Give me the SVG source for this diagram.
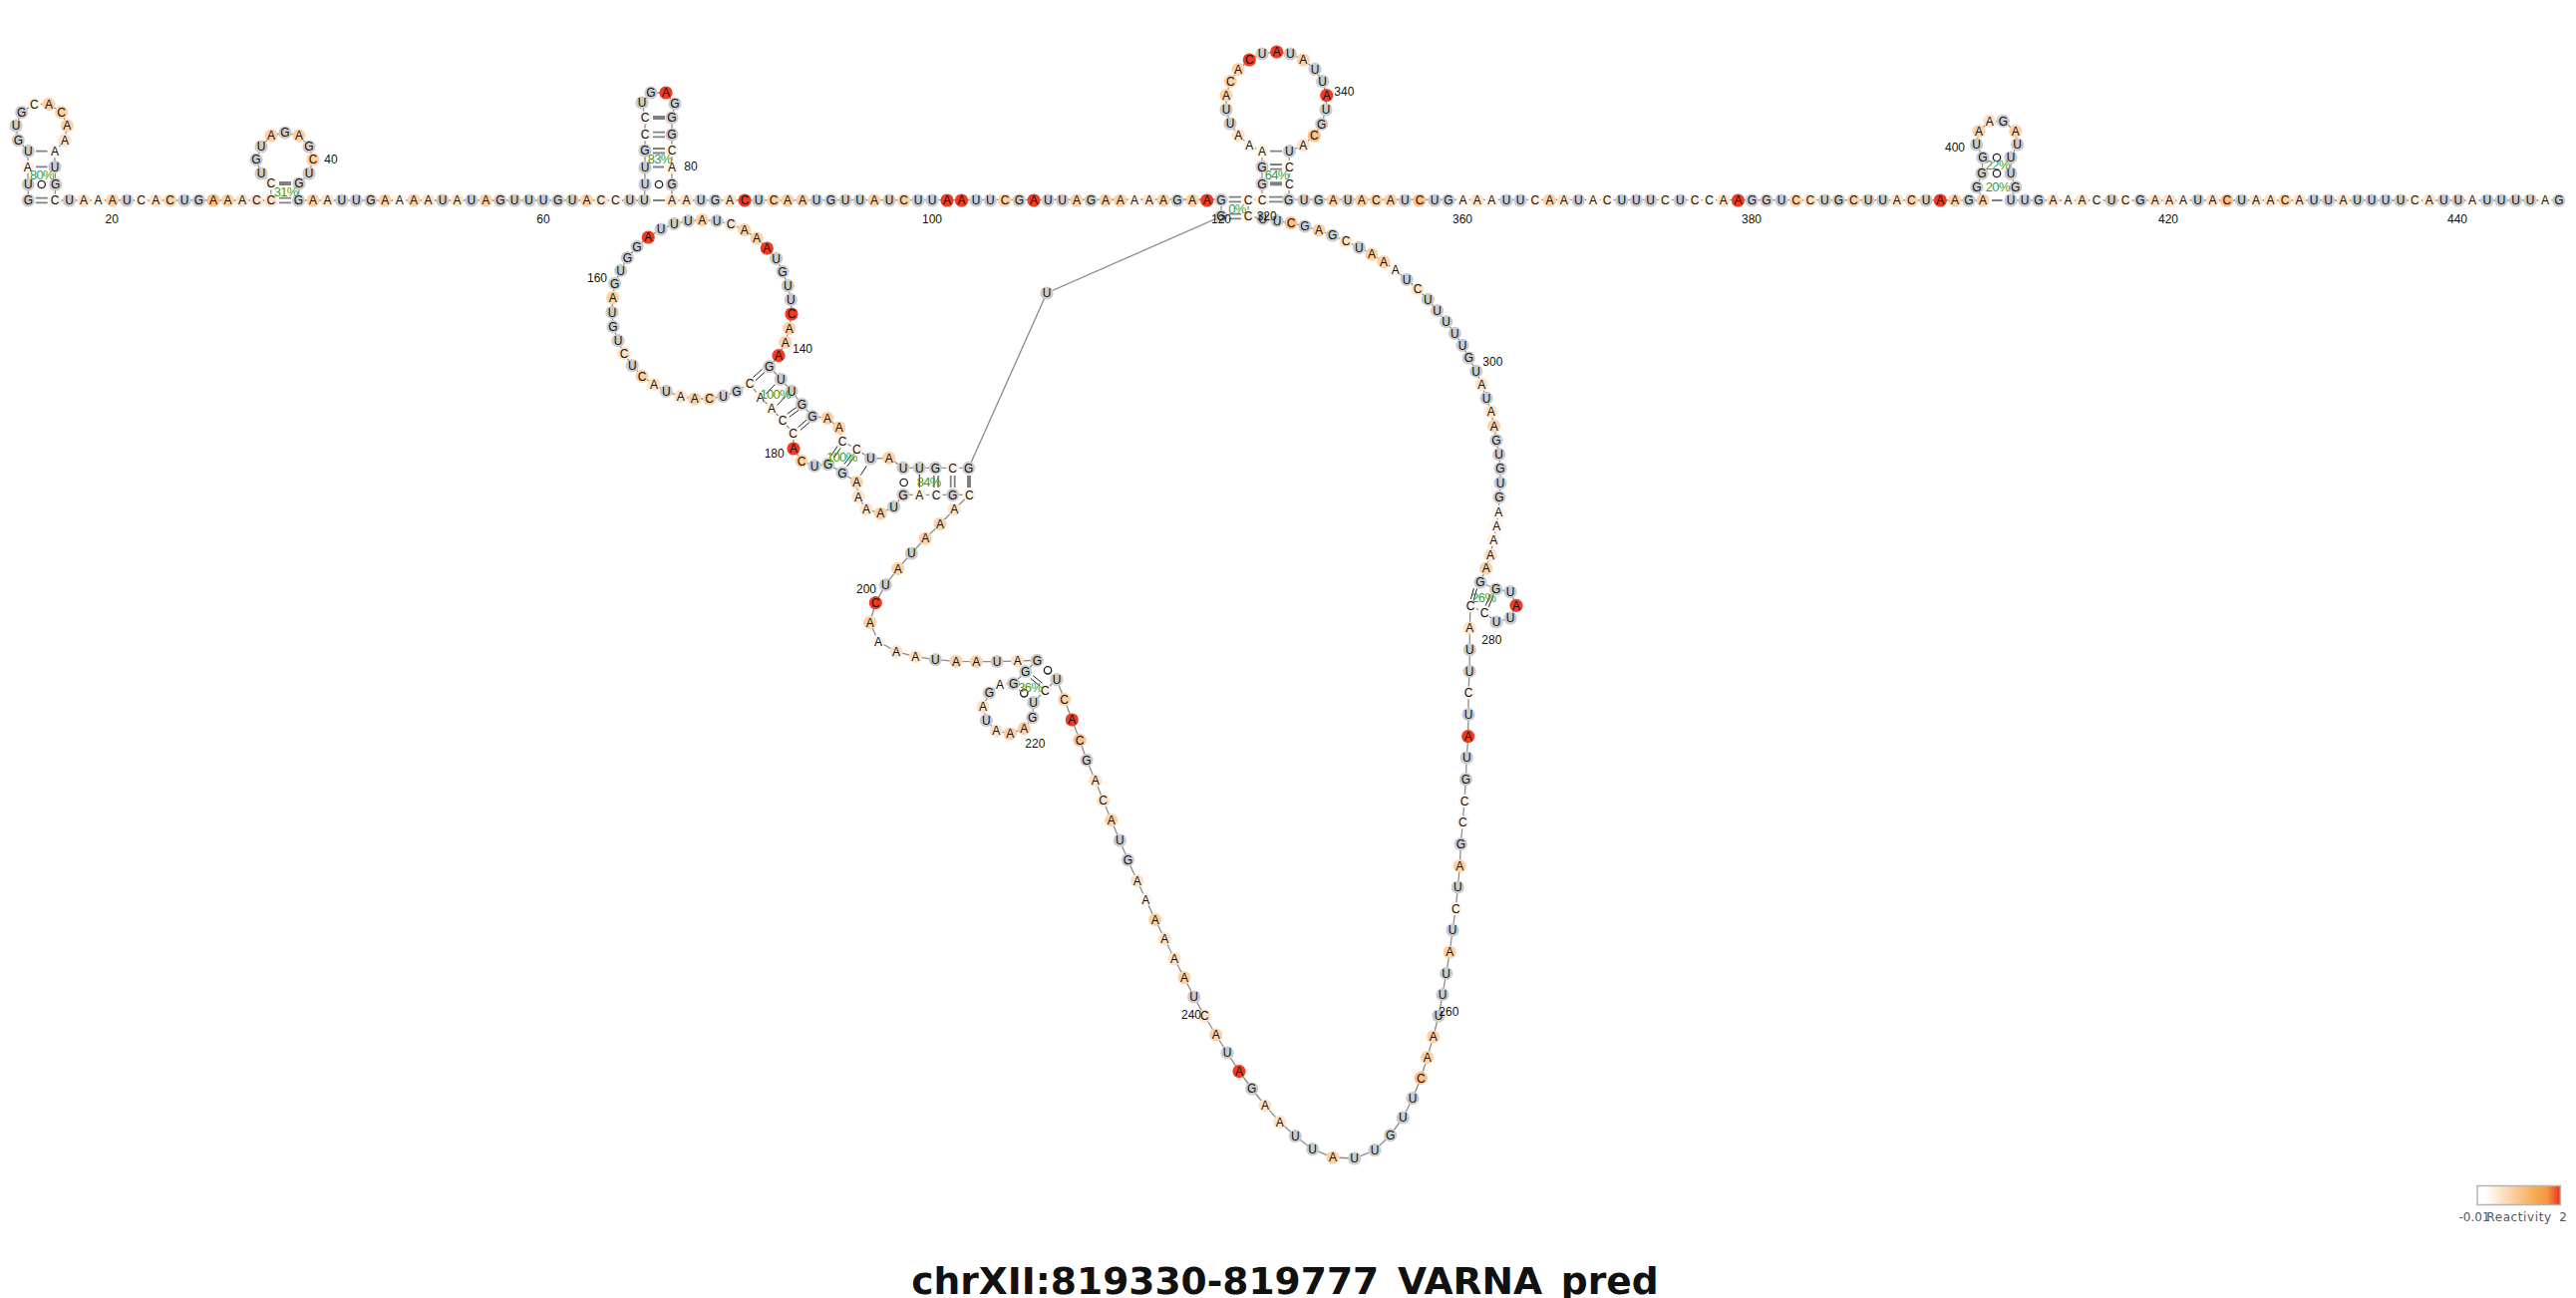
<svg xmlns="http://www.w3.org/2000/svg" width="2584" height="1302" viewBox="0 0 2584 1302">
<style>
text{font-family:"Liberation Sans",Arial,sans-serif;font-size:12px;text-anchor:middle;fill:#111}
circle{r:6.6px}
.g circle{fill:#cbcbcb}.w circle{fill:#fff4e8}.l circle{fill:#fee3c8}.m circle{fill:#fdd2a6}.s circle{fill:#fcc088}.r circle{fill:#ee3b22}
.bb{fill:none;stroke:#8c8c8c;stroke-width:1.3}
.p{stroke:#808080;stroke-width:1.8;fill:none}
.t{stroke:#808080;stroke-width:4;fill:none}
.k{stroke:#222;stroke-width:1;fill:none}
.o{fill:#fff;stroke:#222;stroke-width:1.3;r:3.7px}
.pc text{fill:#3a9e2a;font-size:13px;letter-spacing:-.7px}
.lg{font-family:"DejaVu Sans",sans-serif;fill:#555}
</style>
<defs><linearGradient id="rg"><stop offset="0" stop-color="#fff"/><stop offset=".1" stop-color="#fff"/><stop offset=".4" stop-color="#fbd3a8"/><stop offset=".72" stop-color="#f5a84e"/><stop offset=".84" stop-color="#f49a40"/><stop offset=".98" stop-color="#ee3b22"/></linearGradient></defs>
<rect width="2584" height="1302" fill="#fff"/>
<g id="connectors">
<polyline class="bb" points="28.3,201 28.3,185 27.7,167.3 28.3,151.7 18.3,140.7 16,126 21.7,112.7 34.3,104.3 49,104.3 61.7,112.7 67.3,126 65,140.7 55,151.7 55,167.3 55.7,185 55,201 271.8,201 271.8,184 262,174 257,160 262,147 272,136 286,133 300,136 310,147 314,160 310,174 300,184 299.5,201 646.3,201 647,185 647,168 647,151 647,135 647,118 644,103 653,93 668,93 677,104 674,118 674,135 674,151 674,168 674,185 674,201 1225,200 1225,217 1050,294 971.7,469.3 906,469.3 891.7,459.3 873.3,460 859.3,450.7 845,442.3 841.7,429 830,419.3 815,417.7 804.3,405.7 794,392.3 783.3,380.3 771.7,367.7 781,356.7 787.7,343.3 791.7,329.3 794,315 793.3,300.7 790.3,286.7 785,272.3 778.7,259.3 769.3,249 759,239 746.7,230.7 733,225 719,221.7 704.3,220.7 690.3,221.7 676.3,224.3 663,230 650.3,238 639,247.3 629.3,258.7 622.7,271.3 616.7,284.3 614.7,298.7 614,313.3 615,327.7 620,341.7 626,354.7 634.3,366.7 644,377.3 656,385.7 668.3,392.3 682.7,397.7 696.7,400 711.7,400 725.7,397.3 739,392.3 752,385 762.7,398.3 774,410 785,421.7 795.7,434.7 796,450 804,462.3 817,467.3 830.7,465.7 845,474.3 859.3,483.7 861,498.3 869,511 883.3,515 896.7,508.3 906,496.3 972.3,496.3 957.3,511 943,525.7 928.3,540 914.3,555 900.7,570.3 888.3,586.7 878.3,604.7 872.7,624.3 881,643.3 899,653.7 918.3,658.7 938.3,661.7 959,663.3 979.3,663.7 1000,663.7 1020.7,663 1040.3,662.3 1028.7,673.7 1016.7,685.7 1003,686.7 992.3,695 986,709 989.3,722.7 999.3,733 1013.3,736 1027.3,730.7 1035.7,719.7 1036.7,704.7 1048.3,692.3 1060,681.7 1067.7,701.7 1075.3,722 1083,742.3 1090,762.3 1098.7,783 1106.7,803 1114.7,822.7 1123.3,843 1131.3,862.7 1140.7,883.3 1149.3,902.3 1158.7,922.3 1168.3,941.7 1178,961.7 1188,980.7 1197.7,1000 1208.3,1019 1219.7,1038 1231,1056 1243,1074.7 1255.7,1092 1269,1109 1283.7,1125.3 1299.3,1139.7 1316.7,1152.7 1337,1161 1358.7,1162 1379,1153.7 1394.7,1138.7 1407.3,1121 1417,1101.7 1425.3,1081.3 1431.7,1060.7 1437.7,1040 1443,1019 1447,997.7 1450.7,976.3 1454.3,955 1457,933 1460.3,911.7 1462.3,890 1464.3,868.7 1465.3,846.7 1467.3,825 1469,803.3 1470.3,781.7 1471.3,760 1472.7,738.7 1473,716.7 1473,695 1474,673.3 1474.3,651.7 1474.3,630 1475,607.7 1489,614.3 1501,624 1515,620 1521,607.3 1515,593.7 1500.7,591 1485,584 1490.7,570 1495,556.7 1498.3,541.3 1501.3,527.3 1503.3,513.3 1504,498.7 1505,484.3 1505,470 1503.7,455.7 1501,441.7 1498.7,427.3 1495.7,413 1491,399.3 1486.3,385.7 1480.7,372.3 1473.3,359 1467,346.3 1459.3,334.3 1450.7,322.7 1441.7,311.7 1432.3,300.3 1422,290 1411,280.3 1399.7,271 1388,262.7 1376,255 1363.3,248.3 1350,242 1336.7,236 1323,231 1309,227 1295,223.7 1281,221.5 1266.7,219.3 1252,217 1252,200.3 1266,200 1266,184.3 1266,167.3 1266,151.7 1253.3,145.7 1242.3,136 1234,124 1230,110 1230,95.7 1234.3,81.7 1242,69.7 1253.3,60 1266,54 1280.7,52 1294.3,54 1307.3,60 1319,69.3 1326.7,81.7 1330.7,95.7 1330,110 1325.7,124.3 1318.3,136 1307.3,145.7 1293.3,151.7 1293.3,167.3 1293.3,184.3 1292.7,200 1989,201 1983,187.7 1988,174 1989,158 1982.7,145 1985,131.7 1995.8,121.7 2009.3,121.3 2021.7,131.7 2023.7,145 2017,158 2017,174 2021.7,187.7 2017,201 2566.8,201"/>
<path class="p" d="M35.7 198.7H47.7M35.7 203.3H47.7M36 167.3H47.5M36 151.7H47.5M280 198.7H292M280 203.3H292M655 201H667M655 167.5H666M655 149H667M655 153.5H667M655 132.7H667M655 137.3H667M1232.7 197.7H1245M1232.7 202.3H1245M1232.7 214.7H1245M1232.7 219.3H1245M1273 197.7H1287M1273 202.3H1287M1274 165H1286M1274 169.6H1286M1274 151.7H1286M1998 201H2008.6M953.7 477V489M957.7 477V489M936.8 477V489M941.2 477V489"/>
<path class="t" d="M280 184H292M655 118H667M1274 184.3H1286M972 477V489"/>
<path class="k" d="M922.3 476V489M755.4 378.5L764.7 370.2M758 381.5L767.3 373.2M768.3 395L777.3 385.7M779.3 406.7L788.3 397.3M789.7 415.2L799 408.5M791.7 418.2L801 411.5M800.5 428.6L809.5 420.9M802.9 431.4L811.9 423.7M833.5 457.3L840.2 447.3M836.5 459.3L843.2 449.3M846.8 465.7L854.5 455.7M849.8 467.7L857.5 457.7M863.3 476.7L869.3 467.3M1036.2 677.6L1045.5 685.3M1033.8 680.4L1043.1 688.1M1478.5 590L1475.2 601.7M1481.5 590.5L1478.2 602.2M1495.2 596L1490.2 607.6M1498.2 597.2L1493.2 608.9"/>
<circle class="o" cx="41.7" cy="185"/><circle class="o" cx="661" cy="185"/><circle class="o" cx="2003" cy="158"/><circle class="o" cx="2003" cy="174"/><circle class="o" cx="906.7" cy="484"/><circle class="o" cx="1051" cy="672.3"/><circle class="o" cx="1027.3" cy="695.3"/>
</g>
<g id="nodes">
<g id="n1" class="g" transform="translate(28.3 201)"><circle/><text y="4.2">G</text></g>
<g id="n2" class="g" transform="translate(28.3 185)"><circle/><text y="4.2">U</text></g>
<g id="n3" class="w" transform="translate(27.7 167.3)"><circle/><text y="4.2">A</text></g>
<g id="n4" class="g" transform="translate(28.3 151.7)"><circle/><text y="4.2">U</text></g>
<g id="n5" class="g" transform="translate(18.3 140.7)"><circle/><text y="4.2">G</text></g>
<g id="n6" class="g" transform="translate(16 126)"><circle/><text y="4.2">U</text></g>
<g id="n7" class="g" transform="translate(21.7 112.7)"><circle/><text y="4.2">G</text></g>
<g id="n8" class="w" transform="translate(34.3 104.3)"><circle/><text y="4.2">C</text></g>
<g id="n9" class="m" transform="translate(49 104.3)"><circle/><text y="4.2">A</text></g>
<g id="n10" class="m" transform="translate(61.7 112.7)"><circle/><text y="4.2">C</text></g>
<g id="n11" class="m" transform="translate(67.3 126)"><circle/><text y="4.2">A</text></g>
<g id="n12" class="l" transform="translate(65 140.7)"><circle/><text y="4.2">A</text></g>
<g id="n13" class="w" transform="translate(55 151.7)"><circle/><text y="4.2">A</text></g>
<g id="n14" class="g" transform="translate(55 167.3)"><circle/><text y="4.2">U</text></g>
<g id="n15" class="g" transform="translate(55.7 185)"><circle/><text y="4.2">G</text></g>
<g id="n16" class="w" transform="translate(55 201)"><circle/><text y="4.2">C</text></g>
<g id="n17" class="g" transform="translate(69.5 201)"><circle/><text y="4.2">U</text></g>
<g id="n18" class="l" transform="translate(84 201)"><circle/><text y="4.2">A</text></g>
<g id="n19" class="w" transform="translate(98.4 201)"><circle/><text y="4.2">A</text></g>
<g id="n20" class="m" transform="translate(112.8 201)"><circle/><text y="4.2">A</text></g>
<g id="n21" class="g" transform="translate(127.3 201)"><circle/><text y="4.2">U</text></g>
<g id="n22" class="w" transform="translate(141.7 201)"><circle/><text y="4.2">C</text></g>
<g id="n23" class="l" transform="translate(156.2 201)"><circle/><text y="4.2">A</text></g>
<g id="n24" class="m" transform="translate(170.6 201)"><circle/><text y="4.2">C</text></g>
<g id="n25" class="g" transform="translate(185 201)"><circle/><text y="4.2">U</text></g>
<g id="n26" class="g" transform="translate(199.5 201)"><circle/><text y="4.2">G</text></g>
<g id="n27" class="s" transform="translate(214 201)"><circle/><text y="4.2">A</text></g>
<g id="n28" class="m" transform="translate(228.4 201)"><circle/><text y="4.2">A</text></g>
<g id="n29" class="l" transform="translate(242.9 201)"><circle/><text y="4.2">A</text></g>
<g id="n30" class="l" transform="translate(257.3 201)"><circle/><text y="4.2">C</text></g>
<g id="n31" class="l" transform="translate(271.8 201)"><circle/><text y="4.2">C</text></g>
<g id="n32" class="w" transform="translate(271.8 184)"><circle/><text y="4.2">C</text></g>
<g id="n33" class="g" transform="translate(262 174)"><circle/><text y="4.2">U</text></g>
<g id="n34" class="g" transform="translate(257 160)"><circle/><text y="4.2">G</text></g>
<g id="n35" class="g" transform="translate(262 147)"><circle/><text y="4.2">U</text></g>
<g id="n36" class="m" transform="translate(272 136)"><circle/><text y="4.2">A</text></g>
<g id="n37" class="g" transform="translate(286 133)"><circle/><text y="4.2">G</text></g>
<g id="n38" class="m" transform="translate(300 136)"><circle/><text y="4.2">A</text></g>
<g id="n39" class="g" transform="translate(310 147)"><circle/><text y="4.2">G</text></g>
<g id="n40" class="m" transform="translate(314 160)"><circle/><text y="4.2">C</text></g>
<g id="n41" class="g" transform="translate(310 174)"><circle/><text y="4.2">U</text></g>
<g id="n42" class="g" transform="translate(300 184)"><circle/><text y="4.2">G</text></g>
<g id="n43" class="g" transform="translate(299.5 201)"><circle/><text y="4.2">G</text></g>
<g id="n44" class="m" transform="translate(314 201)"><circle/><text y="4.2">A</text></g>
<g id="n45" class="l" transform="translate(328.4 201)"><circle/><text y="4.2">A</text></g>
<g id="n46" class="g" transform="translate(342.9 201)"><circle/><text y="4.2">U</text></g>
<g id="n47" class="g" transform="translate(357.3 201)"><circle/><text y="4.2">U</text></g>
<g id="n48" class="g" transform="translate(371.8 201)"><circle/><text y="4.2">G</text></g>
<g id="n49" class="m" transform="translate(386.2 201)"><circle/><text y="4.2">A</text></g>
<g id="n50" class="w" transform="translate(400.7 201)"><circle/><text y="4.2">A</text></g>
<g id="n51" class="m" transform="translate(415.1 201)"><circle/><text y="4.2">A</text></g>
<g id="n52" class="l" transform="translate(429.5 201)"><circle/><text y="4.2">A</text></g>
<g id="n53" class="g" transform="translate(444 201)"><circle/><text y="4.2">U</text></g>
<g id="n54" class="l" transform="translate(458.4 201)"><circle/><text y="4.2">A</text></g>
<g id="n55" class="g" transform="translate(472.9 201)"><circle/><text y="4.2">U</text></g>
<g id="n56" class="m" transform="translate(487.3 201)"><circle/><text y="4.2">A</text></g>
<g id="n57" class="g" transform="translate(501.8 201)"><circle/><text y="4.2">G</text></g>
<g id="n58" class="g" transform="translate(516.2 201)"><circle/><text y="4.2">U</text></g>
<g id="n59" class="g" transform="translate(530.7 201)"><circle/><text y="4.2">U</text></g>
<g id="n60" class="g" transform="translate(545.1 201)"><circle/><text y="4.2">U</text></g>
<g id="n61" class="g" transform="translate(559.6 201)"><circle/><text y="4.2">G</text></g>
<g id="n62" class="g" transform="translate(574 201)"><circle/><text y="4.2">U</text></g>
<g id="n63" class="m" transform="translate(588.5 201)"><circle/><text y="4.2">A</text></g>
<g id="n64" class="l" transform="translate(602.9 201)"><circle/><text y="4.2">C</text></g>
<g id="n65" class="w" transform="translate(617.4 201)"><circle/><text y="4.2">C</text></g>
<g id="n66" class="g" transform="translate(631.8 201)"><circle/><text y="4.2">U</text></g>
<g id="n67" class="g" transform="translate(646.3 201)"><circle/><text y="4.2">U</text></g>
<g id="n68" class="g" transform="translate(647 185)"><circle/><text y="4.2">U</text></g>
<g id="n69" class="g" transform="translate(647 168)"><circle/><text y="4.2">U</text></g>
<g id="n70" class="g" transform="translate(647 151)"><circle/><text y="4.2">G</text></g>
<g id="n71" class="w" transform="translate(647 135)"><circle/><text y="4.2">C</text></g>
<g id="n72" class="w" transform="translate(647 118)"><circle/><text y="4.2">C</text></g>
<g id="n73" class="g" transform="translate(644 103)"><circle/><text y="4.2">U</text></g>
<g id="n74" class="g" transform="translate(653 93)"><circle/><text y="4.2">G</text></g>
<g id="n75" class="r" transform="translate(668 93)"><circle/><text y="4.2">A</text></g>
<g id="n76" class="g" transform="translate(677 104)"><circle/><text y="4.2">G</text></g>
<g id="n77" class="g" transform="translate(674 118)"><circle/><text y="4.2">G</text></g>
<g id="n78" class="g" transform="translate(674 135)"><circle/><text y="4.2">G</text></g>
<g id="n79" class="w" transform="translate(674 151)"><circle/><text y="4.2">C</text></g>
<g id="n80" class="w" transform="translate(674 168)"><circle/><text y="4.2">A</text></g>
<g id="n81" class="g" transform="translate(674 185)"><circle/><text y="4.2">G</text></g>
<g id="n82" class="l" transform="translate(674 201)"><circle/><text y="4.2">A</text></g>
<g id="n83" class="l" transform="translate(688.5 201)"><circle/><text y="4.2">A</text></g>
<g id="n84" class="g" transform="translate(703 201)"><circle/><text y="4.2">U</text></g>
<g id="n85" class="g" transform="translate(717.4 201)"><circle/><text y="4.2">G</text></g>
<g id="n86" class="l" transform="translate(732 201)"><circle/><text y="4.2">A</text></g>
<g id="n87" class="r" transform="translate(747 201)"><circle/><text y="4.2">C</text></g>
<g id="n88" class="g" transform="translate(761 201)"><circle/><text y="4.2">U</text></g>
<g id="n89" class="m" transform="translate(776 201)"><circle/><text y="4.2">C</text></g>
<g id="n90" class="m" transform="translate(790 201)"><circle/><text y="4.2">A</text></g>
<g id="n91" class="m" transform="translate(805 201)"><circle/><text y="4.2">A</text></g>
<g id="n92" class="g" transform="translate(819 201)"><circle/><text y="4.2">U</text></g>
<g id="n93" class="g" transform="translate(833.5 201)"><circle/><text y="4.2">G</text></g>
<g id="n94" class="g" transform="translate(848 201)"><circle/><text y="4.2">U</text></g>
<g id="n95" class="g" transform="translate(862.5 201)"><circle/><text y="4.2">U</text></g>
<g id="n96" class="m" transform="translate(877 201)"><circle/><text y="4.2">A</text></g>
<g id="n97" class="g" transform="translate(892 201)"><circle/><text y="4.2">U</text></g>
<g id="n98" class="m" transform="translate(906.7 201)"><circle/><text y="4.2">C</text></g>
<g id="n99" class="g" transform="translate(921 201)"><circle/><text y="4.2">U</text></g>
<g id="n100" class="g" transform="translate(935 201)"><circle/><text y="4.2">U</text></g>
<g id="n101" class="r" transform="translate(950 201)"><circle/><text y="4.2">A</text></g>
<g id="n102" class="r" transform="translate(964.5 201)"><circle/><text y="4.2">A</text></g>
<g id="n103" class="g" transform="translate(979 201)"><circle/><text y="4.2">U</text></g>
<g id="n104" class="g" transform="translate(993.4 201)"><circle/><text y="4.2">U</text></g>
<g id="n105" class="m" transform="translate(1008 201)"><circle/><text y="4.2">C</text></g>
<g id="n106" class="g" transform="translate(1022.3 201)"><circle/><text y="4.2">G</text></g>
<g id="n107" class="r" transform="translate(1037 201)"><circle/><text y="4.2">A</text></g>
<g id="n108" class="g" transform="translate(1051.3 201)"><circle/><text y="4.2">U</text></g>
<g id="n109" class="g" transform="translate(1065.7 201)"><circle/><text y="4.2">U</text></g>
<g id="n110" class="m" transform="translate(1080 201)"><circle/><text y="4.2">A</text></g>
<g id="n111" class="g" transform="translate(1094.3 201)"><circle/><text y="4.2">G</text></g>
<g id="n112" class="m" transform="translate(1109 201)"><circle/><text y="4.2">A</text></g>
<g id="n113" class="m" transform="translate(1123.7 201)"><circle/><text y="4.2">A</text></g>
<g id="n114" class="w" transform="translate(1138 201)"><circle/><text y="4.2">A</text></g>
<g id="n115" class="l" transform="translate(1152.7 201)"><circle/><text y="4.2">A</text></g>
<g id="n116" class="m" transform="translate(1167 201)"><circle/><text y="4.2">A</text></g>
<g id="n117" class="g" transform="translate(1181 201)"><circle/><text y="4.2">G</text></g>
<g id="n118" class="m" transform="translate(1196 201)"><circle/><text y="4.2">A</text></g>
<g id="n119" class="r" transform="translate(1210.7 201)"><circle/><text y="4.2">A</text></g>
<g id="n120" class="g" transform="translate(1225 200.3)"><circle/><text y="4.2">G</text></g>
<g id="n121" class="g" transform="translate(1225 217)"><circle/><text y="4.2">G</text></g>
<g id="n122" class="g" transform="translate(1050 294)"><circle/><text y="4.2">U</text></g>
<g id="n123" class="g" transform="translate(971.7 469.3)"><circle/><text y="4.2">G</text></g>
<g id="n124" class="w" transform="translate(955.7 469.3)"><circle/><text y="4.2">C</text></g>
<g id="n125" class="g" transform="translate(938.3 469.3)"><circle/><text y="4.2">G</text></g>
<g id="n126" class="g" transform="translate(922.3 469.3)"><circle/><text y="4.2">U</text></g>
<g id="n127" class="g" transform="translate(906 469.3)"><circle/><text y="4.2">U</text></g>
<g id="n128" class="m" transform="translate(891.7 459.3)"><circle/><text y="4.2">A</text></g>
<g id="n129" class="g" transform="translate(873.3 460)"><circle/><text y="4.2">U</text></g>
<g id="n130" class="w" transform="translate(859.3 450.7)"><circle/><text y="4.2">C</text></g>
<g id="n131" class="w" transform="translate(845 442.3)"><circle/><text y="4.2">C</text></g>
<g id="n132" class="m" transform="translate(841.7 429)"><circle/><text y="4.2">A</text></g>
<g id="n133" class="m" transform="translate(830 419.3)"><circle/><text y="4.2">A</text></g>
<g id="n134" class="g" transform="translate(815 417.7)"><circle/><text y="4.2">G</text></g>
<g id="n135" class="g" transform="translate(804.3 405.7)"><circle/><text y="4.2">G</text></g>
<g id="n136" class="g" transform="translate(794 392.3)"><circle/><text y="4.2">U</text></g>
<g id="n137" class="g" transform="translate(783.3 380.3)"><circle/><text y="4.2">U</text></g>
<g id="n138" class="g" transform="translate(771.7 367.7)"><circle/><text y="4.2">G</text></g>
<g id="n139" class="r" transform="translate(781 356.7)"><circle/><text y="4.2">A</text></g>
<g id="n140" class="m" transform="translate(787.7 343.3)"><circle/><text y="4.2">A</text></g>
<g id="n141" class="m" transform="translate(791.7 329.3)"><circle/><text y="4.2">A</text></g>
<g id="n142" class="r" transform="translate(794 315)"><circle/><text y="4.2">C</text></g>
<g id="n143" class="g" transform="translate(793.3 300.7)"><circle/><text y="4.2">U</text></g>
<g id="n144" class="g" transform="translate(790.3 286.7)"><circle/><text y="4.2">U</text></g>
<g id="n145" class="g" transform="translate(785 272.3)"><circle/><text y="4.2">G</text></g>
<g id="n146" class="g" transform="translate(778.7 259.3)"><circle/><text y="4.2">U</text></g>
<g id="n147" class="r" transform="translate(769.3 249)"><circle/><text y="4.2">A</text></g>
<g id="n148" class="m" transform="translate(759 239)"><circle/><text y="4.2">A</text></g>
<g id="n149" class="m" transform="translate(746.7 230.7)"><circle/><text y="4.2">A</text></g>
<g id="n150" class="l" transform="translate(733 225)"><circle/><text y="4.2">C</text></g>
<g id="n151" class="g" transform="translate(719 221.7)"><circle/><text y="4.2">U</text></g>
<g id="n152" class="m" transform="translate(704.3 220.7)"><circle/><text y="4.2">A</text></g>
<g id="n153" class="g" transform="translate(690.3 221.7)"><circle/><text y="4.2">U</text></g>
<g id="n154" class="g" transform="translate(676.3 224.3)"><circle/><text y="4.2">U</text></g>
<g id="n155" class="g" transform="translate(663 230)"><circle/><text y="4.2">U</text></g>
<g id="n156" class="r" transform="translate(650.3 238)"><circle/><text y="4.2">A</text></g>
<g id="n157" class="g" transform="translate(639 247.3)"><circle/><text y="4.2">G</text></g>
<g id="n158" class="g" transform="translate(629.3 258.7)"><circle/><text y="4.2">G</text></g>
<g id="n159" class="g" transform="translate(622.7 271.3)"><circle/><text y="4.2">U</text></g>
<g id="n160" class="g" transform="translate(616.7 284.3)"><circle/><text y="4.2">G</text></g>
<g id="n161" class="m" transform="translate(614.7 298.7)"><circle/><text y="4.2">A</text></g>
<g id="n162" class="g" transform="translate(614 313.3)"><circle/><text y="4.2">U</text></g>
<g id="n163" class="g" transform="translate(615 327.7)"><circle/><text y="4.2">G</text></g>
<g id="n164" class="g" transform="translate(620 341.7)"><circle/><text y="4.2">U</text></g>
<g id="n165" class="l" transform="translate(626 354.7)"><circle/><text y="4.2">C</text></g>
<g id="n166" class="g" transform="translate(634.3 366.7)"><circle/><text y="4.2">U</text></g>
<g id="n167" class="m" transform="translate(644 377.3)"><circle/><text y="4.2">C</text></g>
<g id="n168" class="l" transform="translate(656 385.7)"><circle/><text y="4.2">A</text></g>
<g id="n169" class="g" transform="translate(668.3 392.3)"><circle/><text y="4.2">U</text></g>
<g id="n170" class="l" transform="translate(682.7 397.7)"><circle/><text y="4.2">A</text></g>
<g id="n171" class="m" transform="translate(696.7 400)"><circle/><text y="4.2">A</text></g>
<g id="n172" class="m" transform="translate(711.7 400)"><circle/><text y="4.2">C</text></g>
<g id="n173" class="g" transform="translate(725.7 397.3)"><circle/><text y="4.2">U</text></g>
<g id="n174" class="g" transform="translate(739 392.3)"><circle/><text y="4.2">G</text></g>
<g id="n175" class="w" transform="translate(752 385)"><circle/><text y="4.2">C</text></g>
<g id="n176" class="w" transform="translate(762.7 398.3)"><circle/><text y="4.2">A</text></g>
<g id="n177" class="w" transform="translate(774 410)"><circle/><text y="4.2">A</text></g>
<g id="n178" class="w" transform="translate(785 421.7)"><circle/><text y="4.2">C</text></g>
<g id="n179" class="w" transform="translate(795.7 434.7)"><circle/><text y="4.2">C</text></g>
<g id="n180" class="r" transform="translate(796 450)"><circle/><text y="4.2">A</text></g>
<g id="n181" class="m" transform="translate(804 462.3)"><circle/><text y="4.2">C</text></g>
<g id="n182" class="g" transform="translate(817 467.3)"><circle/><text y="4.2">U</text></g>
<g id="n183" class="g" transform="translate(830.7 465.7)"><circle/><text y="4.2">G</text></g>
<g id="n184" class="g" transform="translate(845 474.3)"><circle/><text y="4.2">G</text></g>
<g id="n185" class="m" transform="translate(859.3 483.7)"><circle/><text y="4.2">A</text></g>
<g id="n186" class="l" transform="translate(861 498.3)"><circle/><text y="4.2">A</text></g>
<g id="n187" class="l" transform="translate(869 511)"><circle/><text y="4.2">A</text></g>
<g id="n188" class="m" transform="translate(883.3 515)"><circle/><text y="4.2">A</text></g>
<g id="n189" class="g" transform="translate(896.7 508.3)"><circle/><text y="4.2">U</text></g>
<g id="n190" class="g" transform="translate(906 496.3)"><circle/><text y="4.2">G</text></g>
<g id="n191" class="w" transform="translate(922.3 496.3)"><circle/><text y="4.2">A</text></g>
<g id="n192" class="w" transform="translate(939 496.3)"><circle/><text y="4.2">C</text></g>
<g id="n193" class="g" transform="translate(955.7 496.3)"><circle/><text y="4.2">G</text></g>
<g id="n194" class="w" transform="translate(972.3 496.3)"><circle/><text y="4.2">C</text></g>
<g id="n195" class="l" transform="translate(957.3 511)"><circle/><text y="4.2">A</text></g>
<g id="n196" class="m" transform="translate(943 525.7)"><circle/><text y="4.2">A</text></g>
<g id="n197" class="m" transform="translate(928.3 540)"><circle/><text y="4.2">A</text></g>
<g id="n198" class="g" transform="translate(914.3 555)"><circle/><text y="4.2">U</text></g>
<g id="n199" class="m" transform="translate(900.7 570.3)"><circle/><text y="4.2">A</text></g>
<g id="n200" class="g" transform="translate(888.3 586.7)"><circle/><text y="4.2">U</text></g>
<g id="n201" class="r" transform="translate(878.3 604.7)"><circle/><text y="4.2">C</text></g>
<g id="n202" class="m" transform="translate(872.7 624.3)"><circle/><text y="4.2">A</text></g>
<g id="n203" class="w" transform="translate(881 643.3)"><circle/><text y="4.2">A</text></g>
<g id="n204" class="l" transform="translate(899 653.7)"><circle/><text y="4.2">A</text></g>
<g id="n205" class="l" transform="translate(918.3 658.7)"><circle/><text y="4.2">A</text></g>
<g id="n206" class="g" transform="translate(938.3 661.7)"><circle/><text y="4.2">U</text></g>
<g id="n207" class="m" transform="translate(959 663.3)"><circle/><text y="4.2">A</text></g>
<g id="n208" class="m" transform="translate(979.3 663.7)"><circle/><text y="4.2">A</text></g>
<g id="n209" class="g" transform="translate(1000 663.7)"><circle/><text y="4.2">U</text></g>
<g id="n210" class="l" transform="translate(1020.7 663)"><circle/><text y="4.2">A</text></g>
<g id="n211" class="g" transform="translate(1040.3 662.3)"><circle/><text y="4.2">G</text></g>
<g id="n212" class="g" transform="translate(1028.7 673.7)"><circle/><text y="4.2">G</text></g>
<g id="n213" class="g" transform="translate(1016.7 685.7)"><circle/><text y="4.2">G</text></g>
<g id="n214" class="w" transform="translate(1003 686.7)"><circle/><text y="4.2">A</text></g>
<g id="n215" class="g" transform="translate(992.3 695)"><circle/><text y="4.2">G</text></g>
<g id="n216" class="l" transform="translate(986 709)"><circle/><text y="4.2">A</text></g>
<g id="n217" class="g" transform="translate(989.3 722.7)"><circle/><text y="4.2">U</text></g>
<g id="n218" class="l" transform="translate(999.3 733)"><circle/><text y="4.2">A</text></g>
<g id="n219" class="m" transform="translate(1013.3 736)"><circle/><text y="4.2">A</text></g>
<g id="n220" class="m" transform="translate(1027.3 730.7)"><circle/><text y="4.2">A</text></g>
<g id="n221" class="g" transform="translate(1035.7 719.7)"><circle/><text y="4.2">G</text></g>
<g id="n222" class="g" transform="translate(1036.7 704.7)"><circle/><text y="4.2">U</text></g>
<g id="n223" class="w" transform="translate(1048.3 692.3)"><circle/><text y="4.2">C</text></g>
<g id="n224" class="g" transform="translate(1060 681.7)"><circle/><text y="4.2">U</text></g>
<g id="n225" class="m" transform="translate(1067.7 701.7)"><circle/><text y="4.2">C</text></g>
<g id="n226" class="r" transform="translate(1075.3 722)"><circle/><text y="4.2">A</text></g>
<g id="n227" class="s" transform="translate(1083 742.3)"><circle/><text y="4.2">C</text></g>
<g id="n228" class="g" transform="translate(1090 762.3)"><circle/><text y="4.2">G</text></g>
<g id="n229" class="l" transform="translate(1098.7 783)"><circle/><text y="4.2">A</text></g>
<g id="n230" class="l" transform="translate(1106.7 803)"><circle/><text y="4.2">C</text></g>
<g id="n231" class="m" transform="translate(1114.7 822.7)"><circle/><text y="4.2">A</text></g>
<g id="n232" class="g" transform="translate(1123.3 843)"><circle/><text y="4.2">U</text></g>
<g id="n233" class="g" transform="translate(1131.3 862.7)"><circle/><text y="4.2">G</text></g>
<g id="n234" class="l" transform="translate(1140.7 883.3)"><circle/><text y="4.2">A</text></g>
<g id="n235" class="w" transform="translate(1149.3 902.3)"><circle/><text y="4.2">A</text></g>
<g id="n236" class="m" transform="translate(1158.7 922.3)"><circle/><text y="4.2">A</text></g>
<g id="n237" class="l" transform="translate(1168.3 941.7)"><circle/><text y="4.2">A</text></g>
<g id="n238" class="l" transform="translate(1178 961.7)"><circle/><text y="4.2">A</text></g>
<g id="n239" class="m" transform="translate(1188 980.7)"><circle/><text y="4.2">A</text></g>
<g id="n240" class="g" transform="translate(1197.7 1000)"><circle/><text y="4.2">U</text></g>
<g id="n241" class="l" transform="translate(1208.3 1019)"><circle/><text y="4.2">C</text></g>
<g id="n242" class="m" transform="translate(1219.7 1038)"><circle/><text y="4.2">A</text></g>
<g id="n243" class="g" transform="translate(1231 1056)"><circle/><text y="4.2">U</text></g>
<g id="n244" class="r" transform="translate(1243 1074.7)"><circle/><text y="4.2">A</text></g>
<g id="n245" class="g" transform="translate(1255.7 1092)"><circle/><text y="4.2">G</text></g>
<g id="n246" class="l" transform="translate(1269 1109)"><circle/><text y="4.2">A</text></g>
<g id="n247" class="l" transform="translate(1283.7 1125.3)"><circle/><text y="4.2">A</text></g>
<g id="n248" class="g" transform="translate(1299.3 1139.7)"><circle/><text y="4.2">U</text></g>
<g id="n249" class="g" transform="translate(1316.7 1152.7)"><circle/><text y="4.2">U</text></g>
<g id="n250" class="m" transform="translate(1337 1161)"><circle/><text y="4.2">A</text></g>
<g id="n251" class="g" transform="translate(1358.7 1162)"><circle/><text y="4.2">U</text></g>
<g id="n252" class="g" transform="translate(1379 1153.7)"><circle/><text y="4.2">U</text></g>
<g id="n253" class="g" transform="translate(1394.7 1138.7)"><circle/><text y="4.2">G</text></g>
<g id="n254" class="g" transform="translate(1407.3 1121)"><circle/><text y="4.2">U</text></g>
<g id="n255" class="g" transform="translate(1417 1101.7)"><circle/><text y="4.2">U</text></g>
<g id="n256" class="s" transform="translate(1425.3 1081.3)"><circle/><text y="4.2">C</text></g>
<g id="n257" class="m" transform="translate(1431.7 1060.7)"><circle/><text y="4.2">A</text></g>
<g id="n258" class="m" transform="translate(1437.7 1040)"><circle/><text y="4.2">A</text></g>
<g id="n259" class="g" transform="translate(1443 1019)"><circle/><text y="4.2">U</text></g>
<g id="n260" class="g" transform="translate(1447 997.7)"><circle/><text y="4.2">U</text></g>
<g id="n261" class="g" transform="translate(1450.7 976.3)"><circle/><text y="4.2">U</text></g>
<g id="n262" class="m" transform="translate(1454.3 955)"><circle/><text y="4.2">A</text></g>
<g id="n263" class="g" transform="translate(1457 933)"><circle/><text y="4.2">U</text></g>
<g id="n264" class="w" transform="translate(1460.3 911.7)"><circle/><text y="4.2">C</text></g>
<g id="n265" class="g" transform="translate(1462.3 890)"><circle/><text y="4.2">U</text></g>
<g id="n266" class="m" transform="translate(1464.3 868.7)"><circle/><text y="4.2">A</text></g>
<g id="n267" class="g" transform="translate(1465.3 846.7)"><circle/><text y="4.2">G</text></g>
<g id="n268" class="w" transform="translate(1467.3 825)"><circle/><text y="4.2">C</text></g>
<g id="n269" class="w" transform="translate(1469 803.3)"><circle/><text y="4.2">C</text></g>
<g id="n270" class="g" transform="translate(1470.3 781.7)"><circle/><text y="4.2">G</text></g>
<g id="n271" class="g" transform="translate(1471.3 760)"><circle/><text y="4.2">U</text></g>
<g id="n272" class="r" transform="translate(1472.7 738.7)"><circle/><text y="4.2">A</text></g>
<g id="n273" class="g" transform="translate(1473 716.7)"><circle/><text y="4.2">U</text></g>
<g id="n274" class="w" transform="translate(1473 695)"><circle/><text y="4.2">C</text></g>
<g id="n275" class="g" transform="translate(1474 673.3)"><circle/><text y="4.2">U</text></g>
<g id="n276" class="g" transform="translate(1474.3 651.7)"><circle/><text y="4.2">U</text></g>
<g id="n277" class="l" transform="translate(1474.3 630)"><circle/><text y="4.2">A</text></g>
<g id="n278" class="w" transform="translate(1475 607.7)"><circle/><text y="4.2">C</text></g>
<g id="n279" class="w" transform="translate(1489 614.3)"><circle/><text y="4.2">C</text></g>
<g id="n280" class="g" transform="translate(1501 624)"><circle/><text y="4.2">U</text></g>
<g id="n281" class="g" transform="translate(1515 620)"><circle/><text y="4.2">U</text></g>
<g id="n282" class="r" transform="translate(1521 607.3)"><circle/><text y="4.2">A</text></g>
<g id="n283" class="g" transform="translate(1515 593.7)"><circle/><text y="4.2">U</text></g>
<g id="n284" class="g" transform="translate(1500.7 591)"><circle/><text y="4.2">G</text></g>
<g id="n285" class="g" transform="translate(1485 584)"><circle/><text y="4.2">G</text></g>
<g id="n286" class="m" transform="translate(1490.7 570)"><circle/><text y="4.2">A</text></g>
<g id="n287" class="l" transform="translate(1495 556.7)"><circle/><text y="4.2">A</text></g>
<g id="n288" class="w" transform="translate(1498.3 541.3)"><circle/><text y="4.2">A</text></g>
<g id="n289" class="w" transform="translate(1501.3 527.3)"><circle/><text y="4.2">A</text></g>
<g id="n290" class="w" transform="translate(1503.3 513.3)"><circle/><text y="4.2">A</text></g>
<g id="n291" class="g" transform="translate(1504 498.7)"><circle/><text y="4.2">G</text></g>
<g id="n292" class="g" transform="translate(1505 484.3)"><circle/><text y="4.2">U</text></g>
<g id="n293" class="g" transform="translate(1505 470)"><circle/><text y="4.2">G</text></g>
<g id="n294" class="g" transform="translate(1503.7 455.7)"><circle/><text y="4.2">U</text></g>
<g id="n295" class="g" transform="translate(1501 441.7)"><circle/><text y="4.2">G</text></g>
<g id="n296" class="m" transform="translate(1498.7 427.3)"><circle/><text y="4.2">A</text></g>
<g id="n297" class="l" transform="translate(1495.7 413)"><circle/><text y="4.2">A</text></g>
<g id="n298" class="g" transform="translate(1491 399.3)"><circle/><text y="4.2">U</text></g>
<g id="n299" class="l" transform="translate(1486.3 385.7)"><circle/><text y="4.2">A</text></g>
<g id="n300" class="g" transform="translate(1480.7 372.3)"><circle/><text y="4.2">U</text></g>
<g id="n301" class="g" transform="translate(1473.3 359)"><circle/><text y="4.2">G</text></g>
<g id="n302" class="g" transform="translate(1467 346.3)"><circle/><text y="4.2">U</text></g>
<g id="n303" class="g" transform="translate(1459.3 334.3)"><circle/><text y="4.2">U</text></g>
<g id="n304" class="g" transform="translate(1450.7 322.7)"><circle/><text y="4.2">U</text></g>
<g id="n305" class="g" transform="translate(1441.7 311.7)"><circle/><text y="4.2">U</text></g>
<g id="n306" class="g" transform="translate(1432.3 300.3)"><circle/><text y="4.2">U</text></g>
<g id="n307" class="l" transform="translate(1422 290)"><circle/><text y="4.2">C</text></g>
<g id="n308" class="g" transform="translate(1411 280.3)"><circle/><text y="4.2">U</text></g>
<g id="n309" class="w" transform="translate(1399.7 271)"><circle/><text y="4.2">A</text></g>
<g id="n310" class="m" transform="translate(1388 262.7)"><circle/><text y="4.2">A</text></g>
<g id="n311" class="m" transform="translate(1376 255)"><circle/><text y="4.2">A</text></g>
<g id="n312" class="g" transform="translate(1363.3 248.3)"><circle/><text y="4.2">U</text></g>
<g id="n313" class="l" transform="translate(1350 242)"><circle/><text y="4.2">C</text></g>
<g id="n314" class="g" transform="translate(1336.7 236)"><circle/><text y="4.2">G</text></g>
<g id="n315" class="m" transform="translate(1323 231)"><circle/><text y="4.2">A</text></g>
<g id="n316" class="g" transform="translate(1309 227)"><circle/><text y="4.2">G</text></g>
<g id="n317" class="s" transform="translate(1295 223.7)"><circle/><text y="4.2">C</text></g>
<g id="n318" class="g" transform="translate(1281 221.5)"><circle/><text y="4.2">U</text></g>
<g id="n319" class="g" transform="translate(1266.7 219.3)"><circle/><text y="4.2">U</text></g>
<g id="n320" class="w" transform="translate(1252 217)"><circle/><text y="4.2">C</text></g>
<g id="n321" class="w" transform="translate(1252 200.3)"><circle/><text y="4.2">C</text></g>
<g id="n322" class="w" transform="translate(1266 200.3)"><circle/><text y="4.2">C</text></g>
<g id="n323" class="g" transform="translate(1266 184.3)"><circle/><text y="4.2">G</text></g>
<g id="n324" class="g" transform="translate(1266 167.3)"><circle/><text y="4.2">G</text></g>
<g id="n325" class="w" transform="translate(1266 151.7)"><circle/><text y="4.2">A</text></g>
<g id="n326" class="w" transform="translate(1253.3 145.7)"><circle/><text y="4.2">A</text></g>
<g id="n327" class="l" transform="translate(1242.3 136)"><circle/><text y="4.2">A</text></g>
<g id="n328" class="g" transform="translate(1234 124)"><circle/><text y="4.2">U</text></g>
<g id="n329" class="g" transform="translate(1230 110)"><circle/><text y="4.2">U</text></g>
<g id="n330" class="m" transform="translate(1230 95.7)"><circle/><text y="4.2">A</text></g>
<g id="n331" class="m" transform="translate(1234.3 81.7)"><circle/><text y="4.2">C</text></g>
<g id="n332" class="m" transform="translate(1242 69.7)"><circle/><text y="4.2">A</text></g>
<g id="n333" class="r" transform="translate(1253.3 60)"><circle/><text y="4.2">C</text></g>
<g id="n334" class="g" transform="translate(1266 54)"><circle/><text y="4.2">U</text></g>
<g id="n335" class="r" transform="translate(1280.7 52)"><circle/><text y="4.2">A</text></g>
<g id="n336" class="g" transform="translate(1294.3 54)"><circle/><text y="4.2">U</text></g>
<g id="n337" class="m" transform="translate(1307.3 60)"><circle/><text y="4.2">A</text></g>
<g id="n338" class="g" transform="translate(1319 69.3)"><circle/><text y="4.2">U</text></g>
<g id="n339" class="g" transform="translate(1326.7 81.7)"><circle/><text y="4.2">U</text></g>
<g id="n340" class="r" transform="translate(1330.7 95.7)"><circle/><text y="4.2">A</text></g>
<g id="n341" class="g" transform="translate(1330 110)"><circle/><text y="4.2">U</text></g>
<g id="n342" class="g" transform="translate(1325.7 124.3)"><circle/><text y="4.2">G</text></g>
<g id="n343" class="s" transform="translate(1318.3 136)"><circle/><text y="4.2">C</text></g>
<g id="n344" class="l" transform="translate(1307.3 145.7)"><circle/><text y="4.2">A</text></g>
<g id="n345" class="g" transform="translate(1293.3 151.7)"><circle/><text y="4.2">U</text></g>
<g id="n346" class="w" transform="translate(1293.3 167.3)"><circle/><text y="4.2">C</text></g>
<g id="n347" class="w" transform="translate(1293.3 184.3)"><circle/><text y="4.2">C</text></g>
<g id="n348" class="g" transform="translate(1292.7 200.3)"><circle/><text y="4.2">G</text></g>
<g id="n349" class="g" transform="translate(1308 201)"><circle/><text y="4.2">U</text></g>
<g id="n350" class="g" transform="translate(1322.7 201)"><circle/><text y="4.2">G</text></g>
<g id="n351" class="m" transform="translate(1337.3 201)"><circle/><text y="4.2">A</text></g>
<g id="n352" class="g" transform="translate(1352 201)"><circle/><text y="4.2">U</text></g>
<g id="n353" class="m" transform="translate(1365.8 201)"><circle/><text y="4.2">A</text></g>
<g id="n354" class="m" transform="translate(1380.4 201)"><circle/><text y="4.2">C</text></g>
<g id="n355" class="m" transform="translate(1394.7 201)"><circle/><text y="4.2">A</text></g>
<g id="n356" class="g" transform="translate(1409.3 201)"><circle/><text y="4.2">U</text></g>
<g id="n357" class="s" transform="translate(1424 201)"><circle/><text y="4.2">C</text></g>
<g id="n358" class="g" transform="translate(1439 201)"><circle/><text y="4.2">U</text></g>
<g id="n359" class="g" transform="translate(1452.8 201)"><circle/><text y="4.2">G</text></g>
<g id="n360" class="w" transform="translate(1467.4 201)"><circle/><text y="4.2">A</text></g>
<g id="n361" class="l" transform="translate(1481.7 201)"><circle/><text y="4.2">A</text></g>
<g id="n362" class="w" transform="translate(1496.3 201)"><circle/><text y="4.2">A</text></g>
<g id="n363" class="g" transform="translate(1511 201)"><circle/><text y="4.2">U</text></g>
<g id="n364" class="g" transform="translate(1525 201)"><circle/><text y="4.2">U</text></g>
<g id="n365" class="w" transform="translate(1539.8 201)"><circle/><text y="4.2">C</text></g>
<g id="n366" class="m" transform="translate(1554.4 201)"><circle/><text y="4.2">A</text></g>
<g id="n367" class="l" transform="translate(1568.7 201)"><circle/><text y="4.2">A</text></g>
<g id="n368" class="g" transform="translate(1583.3 201)"><circle/><text y="4.2">U</text></g>
<g id="n369" class="w" transform="translate(1598 201)"><circle/><text y="4.2">A</text></g>
<g id="n370" class="w" transform="translate(1612 201)"><circle/><text y="4.2">C</text></g>
<g id="n371" class="g" transform="translate(1626.8 201)"><circle/><text y="4.2">U</text></g>
<g id="n372" class="g" transform="translate(1641.4 201)"><circle/><text y="4.2">U</text></g>
<g id="n373" class="g" transform="translate(1655.7 201)"><circle/><text y="4.2">U</text></g>
<g id="n374" class="w" transform="translate(1670.3 201)"><circle/><text y="4.2">C</text></g>
<g id="n375" class="g" transform="translate(1685.3 201)"><circle/><text y="4.2">U</text></g>
<g id="n376" class="w" transform="translate(1700 201)"><circle/><text y="4.2">C</text></g>
<g id="n377" class="w" transform="translate(1714.6 201)"><circle/><text y="4.2">C</text></g>
<g id="n378" class="l" transform="translate(1728.8 201)"><circle/><text y="4.2">A</text></g>
<g id="n379" class="r" transform="translate(1743.4 201)"><circle/><text y="4.2">A</text></g>
<g id="n380" class="g" transform="translate(1757.3 201)"><circle/><text y="4.2">G</text></g>
<g id="n381" class="g" transform="translate(1772 201)"><circle/><text y="4.2">G</text></g>
<g id="n382" class="g" transform="translate(1787 201)"><circle/><text y="4.2">U</text></g>
<g id="n383" class="m" transform="translate(1801.6 201)"><circle/><text y="4.2">C</text></g>
<g id="n384" class="l" transform="translate(1815.8 201)"><circle/><text y="4.2">C</text></g>
<g id="n385" class="g" transform="translate(1830.4 201)"><circle/><text y="4.2">U</text></g>
<g id="n386" class="g" transform="translate(1844.3 201)"><circle/><text y="4.2">G</text></g>
<g id="n387" class="m" transform="translate(1859.3 201)"><circle/><text y="4.2">C</text></g>
<g id="n388" class="g" transform="translate(1874 201)"><circle/><text y="4.2">U</text></g>
<g id="n389" class="g" transform="translate(1888.6 201)"><circle/><text y="4.2">U</text></g>
<g id="n390" class="l" transform="translate(1902.8 201)"><circle/><text y="4.2">A</text></g>
<g id="n391" class="m" transform="translate(1917.4 201)"><circle/><text y="4.2">C</text></g>
<g id="n392" class="g" transform="translate(1932 201)"><circle/><text y="4.2">U</text></g>
<g id="n393" class="r" transform="translate(1946.3 201)"><circle/><text y="4.2">A</text></g>
<g id="n394" class="m" transform="translate(1961 201)"><circle/><text y="4.2">A</text></g>
<g id="n395" class="g" transform="translate(1975 201)"><circle/><text y="4.2">G</text></g>
<g id="n396" class="m" transform="translate(1989 201)"><circle/><text y="4.2">A</text></g>
<g id="n397" class="g" transform="translate(1983 187.7)"><circle/><text y="4.2">G</text></g>
<g id="n398" class="g" transform="translate(1988 174)"><circle/><text y="4.2">G</text></g>
<g id="n399" class="g" transform="translate(1989 158)"><circle/><text y="4.2">G</text></g>
<g id="n400" class="g" transform="translate(1982.7 145)"><circle/><text y="4.2">U</text></g>
<g id="n401" class="m" transform="translate(1985 131.7)"><circle/><text y="4.2">A</text></g>
<g id="n402" class="l" transform="translate(1995.8 121.7)"><circle/><text y="4.2">A</text></g>
<g id="n403" class="g" transform="translate(2009.3 121.3)"><circle/><text y="4.2">G</text></g>
<g id="n404" class="m" transform="translate(2021.7 131.7)"><circle/><text y="4.2">A</text></g>
<g id="n405" class="g" transform="translate(2023.7 145)"><circle/><text y="4.2">U</text></g>
<g id="n406" class="g" transform="translate(2017 158)"><circle/><text y="4.2">U</text></g>
<g id="n407" class="g" transform="translate(2017 174)"><circle/><text y="4.2">U</text></g>
<g id="n408" class="g" transform="translate(2021.7 187.7)"><circle/><text y="4.2">G</text></g>
<g id="n409" class="g" transform="translate(2017 201)"><circle/><text y="4.2">U</text></g>
<g id="n410" class="g" transform="translate(2031 201)"><circle/><text y="4.2">U</text></g>
<g id="n411" class="g" transform="translate(2045 201)"><circle/><text y="4.2">G</text></g>
<g id="n412" class="l" transform="translate(2059.5 201)"><circle/><text y="4.2">A</text></g>
<g id="n413" class="w" transform="translate(2074.6 201)"><circle/><text y="4.2">A</text></g>
<g id="n414" class="l" transform="translate(2088.5 201)"><circle/><text y="4.2">A</text></g>
<g id="n415" class="w" transform="translate(2103 201)"><circle/><text y="4.2">C</text></g>
<g id="n416" class="g" transform="translate(2118 201)"><circle/><text y="4.2">U</text></g>
<g id="n417" class="w" transform="translate(2132 201)"><circle/><text y="4.2">C</text></g>
<g id="n418" class="g" transform="translate(2147 201)"><circle/><text y="4.2">G</text></g>
<g id="n419" class="l" transform="translate(2161.7 201)"><circle/><text y="4.2">A</text></g>
<g id="n420" class="l" transform="translate(2176 201)"><circle/><text y="4.2">A</text></g>
<g id="n421" class="w" transform="translate(2190 201)"><circle/><text y="4.2">A</text></g>
<g id="n422" class="g" transform="translate(2204.7 201)"><circle/><text y="4.2">U</text></g>
<g id="n423" class="l" transform="translate(2219.4 201)"><circle/><text y="4.2">A</text></g>
<g id="n424" class="s" transform="translate(2233.8 201)"><circle/><text y="4.2">C</text></g>
<g id="n425" class="g" transform="translate(2248.5 201)"><circle/><text y="4.2">U</text></g>
<g id="n426" class="l" transform="translate(2263 201)"><circle/><text y="4.2">A</text></g>
<g id="n427" class="l" transform="translate(2277.5 201)"><circle/><text y="4.2">A</text></g>
<g id="n428" class="m" transform="translate(2292 201)"><circle/><text y="4.2">C</text></g>
<g id="n429" class="l" transform="translate(2306.6 201)"><circle/><text y="4.2">A</text></g>
<g id="n430" class="g" transform="translate(2321 201)"><circle/><text y="4.2">U</text></g>
<g id="n431" class="g" transform="translate(2335.6 201)"><circle/><text y="4.2">U</text></g>
<g id="n432" class="l" transform="translate(2350.4 201)"><circle/><text y="4.2">A</text></g>
<g id="n433" class="g" transform="translate(2364.7 201)"><circle/><text y="4.2">U</text></g>
<g id="n434" class="g" transform="translate(2379 201)"><circle/><text y="4.2">U</text></g>
<g id="n435" class="g" transform="translate(2393 201)"><circle/><text y="4.2">U</text></g>
<g id="n436" class="g" transform="translate(2408 201)"><circle/><text y="4.2">U</text></g>
<g id="n437" class="w" transform="translate(2422.4 201)"><circle/><text y="4.2">C</text></g>
<g id="n438" class="l" transform="translate(2436.7 201)"><circle/><text y="4.2">A</text></g>
<g id="n439" class="g" transform="translate(2451.4 201)"><circle/><text y="4.2">U</text></g>
<g id="n440" class="g" transform="translate(2465.8 201)"><circle/><text y="4.2">U</text></g>
<g id="n441" class="w" transform="translate(2480 201)"><circle/><text y="4.2">A</text></g>
<g id="n442" class="g" transform="translate(2494.8 201)"><circle/><text y="4.2">U</text></g>
<g id="n443" class="g" transform="translate(2509 201)"><circle/><text y="4.2">U</text></g>
<g id="n444" class="g" transform="translate(2523.5 201)"><circle/><text y="4.2">U</text></g>
<g id="n445" class="g" transform="translate(2538 201)"><circle/><text y="4.2">U</text></g>
<g id="n446" class="w" transform="translate(2553 201)"><circle/><text y="4.2">A</text></g>
<g id="n447" class="g" transform="translate(2566.8 201)"><circle/><text y="4.2">G</text></g>
</g>
<g id="labels">
<text x="112.3" y="224.3">20</text><text x="332" y="164.3">40</text><text x="545" y="224.3">60</text><text x="693" y="171.3">80</text><text x="935" y="224.3">100</text><text x="1225" y="224.3">120</text><text x="1270.7" y="221">320</text><text x="1348.3" y="96.3">340</text><text x="1467" y="224.3">360</text><text x="1757" y="224.3">380</text><text x="1961" y="152.3">400</text><text x="2175" y="224.3">420</text><text x="2465" y="224.3">440</text><text x="805" y="354.3">140</text><text x="599" y="283.3">160</text><text x="776.7" y="459.3">180</text><text x="869" y="595">200</text><text x="1038.3" y="750.3">220</text><text x="1195" y="1022.3">240</text><text x="1453.3" y="1019.3">260</text><text x="1496.3" y="646.3">280</text><text x="1497.3" y="367.3">300</text>
</g>
<g id="percents" class="pc">
<text x="42" y="180.4">80%</text><text x="286.7" y="197">31%</text><text x="661.7" y="163.7">83%</text><text x="1280.7" y="180">64%</text><text x="1241" y="214.4">0%</text><text x="2003.8" y="192">20%</text><text x="2003.8" y="170">22%</text><text x="1488.3" y="604.4">26%</text><text x="777.7" y="400">100%</text><text x="844.3" y="462.7">100%</text><text x="931.7" y="488">84%</text><text x="1033.3" y="694.4">36%</text>
</g>
<g id="legend">
<rect x="2485" y="1189.5" width="83.3" height="19" fill="url(#rg)" stroke="#b4b4b4" stroke-width="1.5"/>
<text class="lg" x="2482" y="1224.5">-0.01</text>
<text class="lg" x="2527" y="1224.5" letter-spacing=".6">Reactivity</text>
<text class="lg" x="2571" y="1224.5">2</text>
</g>
<text id="title" x="1289" y="1298" style="font-family:'DejaVu Sans',sans-serif;font-weight:bold;font-size:37.6px">chrXII:819330-819777_VARNA_pred</text>
</svg>
